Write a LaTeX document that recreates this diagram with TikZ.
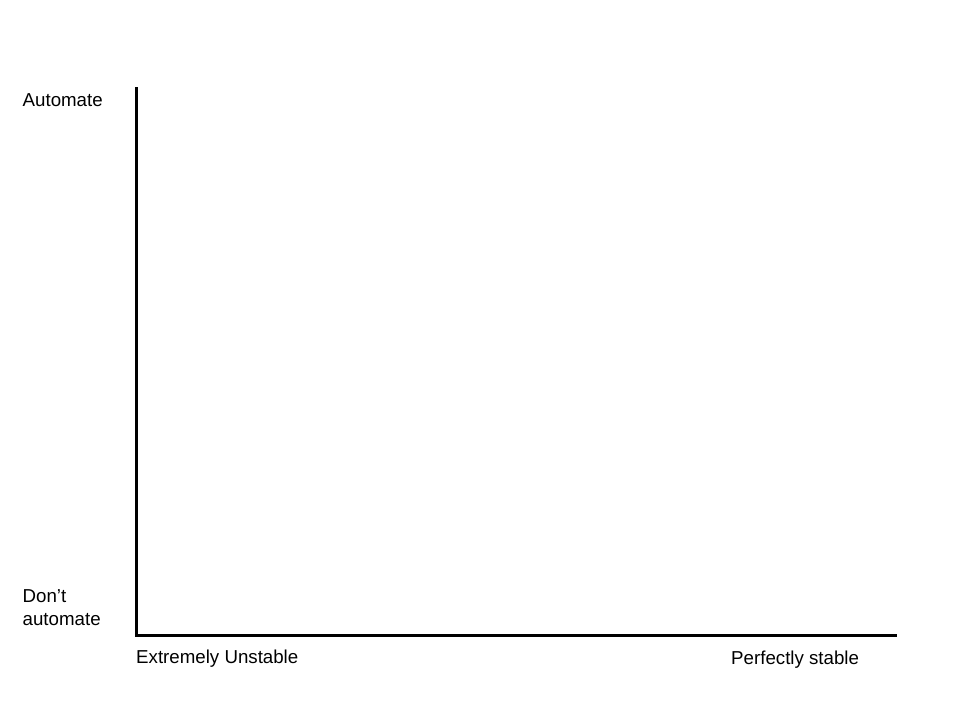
\documentclass[tikz,border=0pt]{standalone}
\usepackage{fontspec}
\setmainfont{Liberation Sans}
\begin{document}
\begin{tikzpicture}[x=1pt,y=-1pt,
  lbl/.style={anchor=base west,inner sep=0pt,font=\fontsize{18.7}{22}\selectfont},
  axis/.style={line width=3pt,black}]
\useasboundingbox (0,0) rectangle (960,720);
\coordinate (top) at (136.5,87);
\coordinate (origin) at (136.5,635.5);
\coordinate (right) at (897,635.5);
\draw[axis] (top) -- (origin) -- (right);
\node[lbl] (auto) at (22.5,106) {Automate};
\node[lbl] (dont) at (22.5,602.7) {Don’t};
\node[lbl] (dont2) at (22.5,625) {automate};
\node[lbl] (unst) at (136,663.5) {Extremely Unstable};
\node[lbl] (stab) at (731,664) {Perfectly stable};
\end{tikzpicture}
\end{document}
